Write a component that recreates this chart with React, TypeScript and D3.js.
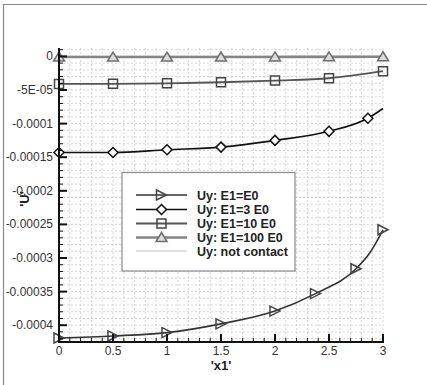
import React from "react";
import * as d3 from "d3";

// Vertical displacement Uy along x1 for several stiffness ratios
const xTriRight = [0, 0.5, 1, 1.5, 2, 2.375, 2.75, 2.875, 3];
const yTriRight = [-0.000419, -0.000416, -0.000411, -0.000398, -0.000379, -0.000353, -0.000316, -0.000293, -0.000258];
const markTriRight = [0, 0.5, 1, 1.5, 2, 2.375, 2.75, 3];

const xDiamond = [0, 0.5, 1, 1.5, 2, 2.5, 2.86, 3];
const yDiamond = [-0.000143, -0.000143, -0.000139, -0.000135, -0.000125, -0.0001115, -0.000092, -0.0000775];
const markDiamond = [0, 0.5, 1, 1.5, 2, 2.5, 2.86];

const xSquare = [0, 0.5, 1, 1.5, 2, 2.5, 3];
const ySquare = [-0.000041, -0.0000408, -0.00004, -0.0000385, -0.000036, -0.0000325, -0.000022];

const xTriUp = [0, 0.5, 1, 1.5, 2, 2.5, 3];
const yTriUp = [-0.000001, -0.000001, -0.000001, -0.0000009, -0.0000008, -0.0000007, -0.0000005];

const xNoContact = [0, 3];
const yNoContact = [0, 0];

const yTickValues = [0, -0.00005, -0.0001, -0.00015, -0.0002, -0.00025, -0.0003, -0.00035, -0.0004];
const yTickLabels = ["0", "-5E-05", "-0.0001", "-0.00015", "-0.0002", "-0.00025", "-0.0003", "-0.00035", "-0.0004"];
const xTickValues = [0, 0.5, 1, 1.5, 2, 2.5, 3];
const xTickLabels = ["0", "0.5", "1", "1.5", "2", "2.5", "3"];

const legendLabels = ["Uy: E1=E0", "Uy: E1=3 E0", "Uy: E1=10 E0", "Uy: E1=100 E0", "Uy: not contact"];

type Marker = "triRight" | "diamond" | "square" | "triUp" | "none";

function markerPath(kind: Marker, cx: number, cy: number): string {
  const s = 5;
  switch (kind) {
    case "triRight":
      return `M${cx - s},${cy - s}L${cx + s},${cy}L${cx - s},${cy + s}Z`;
    case "diamond":
      return `M${cx},${cy - s}L${cx + s},${cy}L${cx},${cy + s}L${cx - s},${cy}Z`;
    case "square":
      return `M${cx - 4.5},${cy - 4.5}h9v9h-9Z`;
    case "triUp":
      return `M${cx},${cy - s}L${cx + s + 0.5},${cy + 4}L${cx - s - 0.5},${cy + 4}Z`;
    default:
      return "";
  }
}

export default function App() {
  const W = 427;
  const H = 385;
  const left = 59;
  const right = 383;
  const top = 48;
  const bottom = 342;

  const x = d3.scaleLinear().domain([0, 3]).range([left, right]);
  const y = d3.scaleLinear().domain([-0.000425, 0.0000125]).range([bottom, top]);

  const xMinor = d3.range(0, 3.0001, 0.1);
  const yMinor = d3.range(-0.00042, 0.0000125, 0.00001);

  const line = d3
    .line<[number, number]>()
    .x((d) => x(d[0]))
    .y((d) => y(d[1]))
    .curve(d3.curveMonotoneX);

  const zip = (xs: number[], ys: number[]) => xs.map((v, i) => [v, ys[i]] as [number, number]);

  const series = [
    { pts: zip(xNoContact, yNoContact), marks: [] as number[], marker: "none" as Marker, stroke: "#c4c4c4", width: 1.2, mstroke: "#c4c4c4", fill: "none" },
    { pts: zip(xTriUp, yTriUp), marks: xTriUp, marker: "triUp" as Marker, stroke: "#858585", width: 2.6, mstroke: "#6e6e6e", fill: "#dcdcdc" },
    { pts: zip(xSquare, ySquare), marks: xSquare, marker: "square" as Marker, stroke: "#555", width: 1.8, mstroke: "#444", fill: "none" },
    { pts: zip(xDiamond, yDiamond), marks: markDiamond, marker: "diamond" as Marker, stroke: "#111", width: 1.6, mstroke: "#111", fill: "white" },
    { pts: zip(xTriRight, yTriRight), marks: markTriRight, marker: "triRight" as Marker, stroke: "#333", width: 1.6, mstroke: "#444", fill: "none" },
  ];

  const legendOrder = [4, 3, 2, 1, 0];
  const lx0 = 136;
  const lx1 = 187;
  const rowY = [195, 209.5, 223.5, 237.5, 251];

  return (
    <svg width={W} height={H} style={{ display: "block", position: "absolute", left: 0, top: 0, background: "white" }} fontFamily="'Liberation Sans', Arial, sans-serif">
      <rect x={0} y={0} width={W} height={H} fill="white" />
      {/* outer frame */}
      <path d={`M3.5,${H}V4.5H${W}`} fill="none" stroke="#8a8a8a" strokeWidth={1.2} />

      {/* grid */}
      <g stroke="#cccccc" strokeWidth={0.8} strokeDasharray="2,2">
        {xMinor.map((v, i) => (
          <line key={`gx${i}`} x1={x(v)} x2={x(v)} y1={top} y2={bottom} />
        ))}
        {yMinor.map((v, i) => (
          <line key={`gy${i}`} x1={left} x2={right} y1={y(v)} y2={y(v)} />
        ))}
      </g>

      {/* series */}
      {series.map((s, i) => (
        <g key={`s${i}`}>
          <path d={line(s.pts) || ""} fill="none" stroke={s.stroke} strokeWidth={s.width} />
          {s.marks.map((mx, j) => {
            const idx = s.pts.findIndex((p) => p[0] === mx);
            const p = s.pts[idx];
            return (
              <path key={`m${j}`} d={markerPath(s.marker, x(p[0]), y(p[1]))} fill={s.fill} stroke={s.mstroke} strokeWidth={1.5} />
            );
          })}
        </g>
      ))}

      {/* axes */}
      <g stroke="#111">
        <line x1={left} x2={left} y1={top} y2={bottom + 1} strokeWidth={2} />
        <line x1={left - 1} x2={right + 1} y1={bottom} y2={bottom} strokeWidth={2} />
        {yMinor.map((v, i) => (
          <line key={`ymt${i}`} x1={left} x2={left + 4} y1={y(v)} y2={y(v)} strokeWidth={1} />
        ))}
        {yTickValues.map((v, i) => (
          <line key={`yt${i}`} x1={left} x2={left + 8} y1={y(v)} y2={y(v)} strokeWidth={2} />
        ))}
        {xMinor.map((v, i) => (
          <line key={`xmt${i}`} x1={x(v)} x2={x(v)} y1={bottom} y2={bottom - 4} strokeWidth={1} />
        ))}
        {xTickValues.map((v, i) => (
          <line key={`xt${i}`} x1={x(v)} x2={x(v)} y1={bottom} y2={bottom - 8} strokeWidth={2} />
        ))}
      </g>

      {/* tick labels */}
      <g fill="#333" fontSize={12}>
        {yTickValues.map((v, i) => (
          <text key={`yl${i}`} x={53} y={y(v) + 4} textAnchor="end">{yTickLabels[i]}</text>
        ))}
        {xTickValues.map((v, i) => (
          <text key={`xl${i}`} x={x(v)} y={355} textAnchor="middle">{xTickLabels[i]}</text>
        ))}
      </g>

      {/* axis titles */}
      <text x={221} y={370} textAnchor="middle" fontSize={13} fontWeight="bold" fill="#222">'x1'</text>
      <text transform="translate(29,199) rotate(-90)" textAnchor="middle" fontSize={13} fontWeight="bold" fill="#222">'U'</text>

      {/* legend */}
      <rect x={122} y={172.5} width={173} height={98.5} fill="white" stroke="#8a8a8a" strokeWidth={1.2} />
      {legendOrder.map((si, r) => {
        const s = series[si];
        const cy = rowY[r];
        const cx = (lx0 + lx1) / 2;
        return (
          <g key={`lg${r}`}>
            <line x1={lx0} x2={lx1} y1={cy} y2={cy} stroke={s.stroke} strokeWidth={s.width} />
            {s.marker !== "none" && (
              <path d={markerPath(s.marker, cx, cy)} fill={s.fill} stroke={s.mstroke} strokeWidth={1.5} />
            )}
            <text x={197} y={cy + 4.5} fontSize={12.5} fontWeight="bold" fill="#222">{legendLabels[r]}</text>
          </g>
        );
      })}
    </svg>
  );
}
